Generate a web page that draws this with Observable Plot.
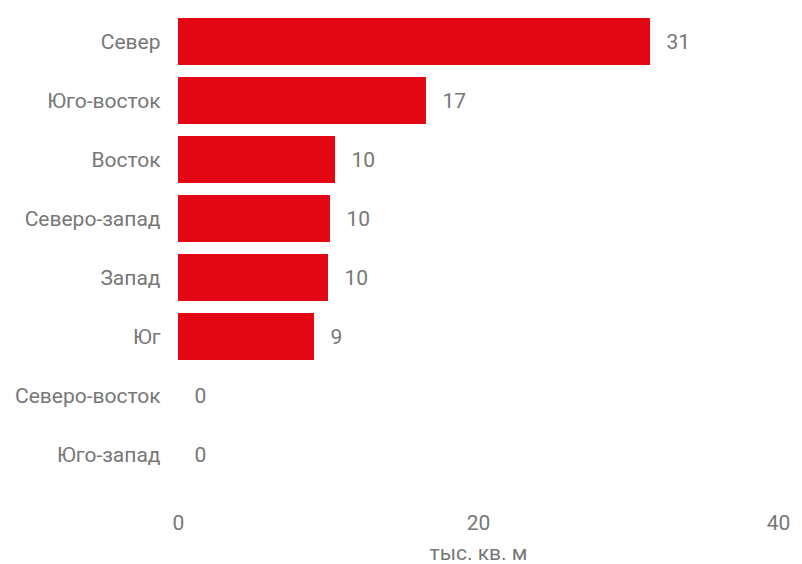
<!DOCTYPE html>
<html>
<head>
<meta charset="utf-8">
<script src="https://cdn.jsdelivr.net/npm/d3@7"></script>
<script src="https://cdn.jsdelivr.net/npm/@observablehq/plot@0.6"></script>
<style>
  html, body { margin: 0; padding: 0; background: #fff; }
  #chart svg { display: block; }
</style>
</head>
<body>
<div id="chart"></div>
<script>
const regions = ["Север", "Юго-восток", "Восток", "Северо-запад", "Запад", "Юг", "Северо-восток", "Юго-запад"];
const areas = [31.47, 16.53, 10.47, 10.13, 10.0, 9.07, 0, 0];
const xTicks = [0, 20, 40];
const xLabel = "тыс. кв. м";

const data = regions.map((r, i) => ({region: r, value: areas[i]}));
const grey = "#777777";

const chart = Plot.plot({
  width: 802,
  height: 564,
  marginLeft: 178,
  marginRight: 24,
  marginTop: 4,
  marginBottom: 71,
  style: {fontFamily: "Roboto, sans-serif", fontSize: "21px", color: grey, background: "#fff"},
  x: {domain: [0, 40]},
  y: {domain: regions, padding: 0.2},
  marks: [
    Plot.barX(data, {x: "value", y: "region", fill: "#E30613"}),
    Plot.text(data, {
      x: "value", y: "region", text: d => d3.format(".0f")(d.value),
      dx: 16, textAnchor: "start", fill: grey, fontSize: 21
    }),
    Plot.axisY({tickSize: 0, tickPadding: 18, label: null, fill: grey, fontSize: 21}),
    Plot.axisX({
      ticks: xTicks, tickSize: 0, tickPadding: 22, tickFormat: d3.format("d"),
      label: xLabel, labelAnchor: "center", labelArrow: "none", labelOffset: 66,
      fill: grey, fontSize: 21
    })
  ]
});
document.getElementById("chart").appendChild(chart);
</script>
</body>
</html>
